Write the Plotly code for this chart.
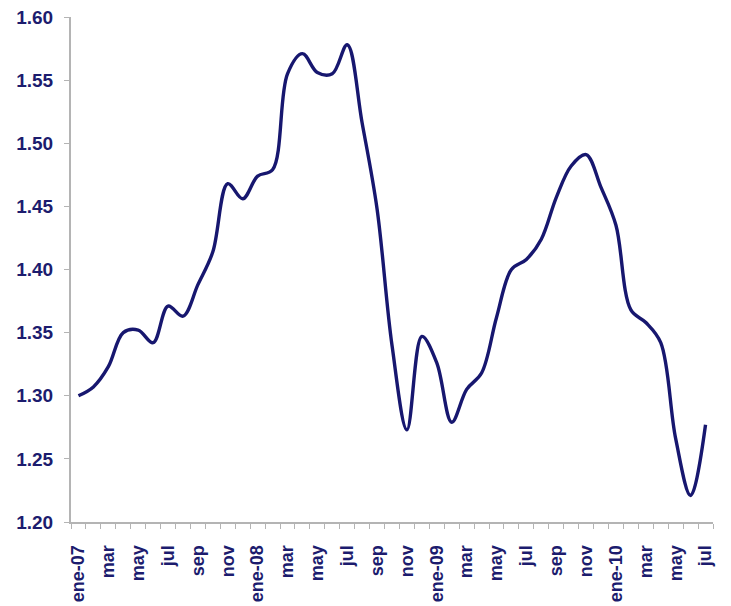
import plotly.graph_objects as go

# Monthly values, ene-07 .. jul-10 (43 months)
months = ["ene-07", "feb", "mar", "abr", "may", "jun", "jul", "ago", "sep", "oct", "nov", "dic",
          "ene-08", "feb", "mar", "abr", "may", "jun", "jul", "ago", "sep", "oct", "nov", "dic",
          "ene-09", "feb", "mar", "abr", "may", "jun", "jul", "ago", "sep", "oct", "nov", "dic",
          "ene-10", "feb", "mar", "abr", "may", "jun", "jul"]
rate = [1.300, 1.307, 1.323, 1.350, 1.352, 1.342, 1.371, 1.363, 1.388, 1.414, 1.468, 1.456,
        1.474, 1.479, 1.555, 1.571, 1.556, 1.555, 1.578, 1.516, 1.448, 1.340, 1.273, 1.347,
        1.326, 1.279, 1.305, 1.318, 1.362, 1.400, 1.408, 1.424, 1.457, 1.482, 1.491, 1.465,
        1.435, 1.368, 1.358, 1.342, 1.266, 1.221, 1.277]
y_ticks = [1.20, 1.25, 1.30, 1.35, 1.40, 1.45, 1.50, 1.55, 1.60]

x_idx = list(range(len(months)))
label_idx = x_idx[::2]
label_txt = [months[i] for i in label_idx]

NAVY = "#1c1c6e"
LINE = "#17176f"
AXIS = "#b4b4b4"

fig = go.Figure()
fig.add_trace(go.Scatter(
    x=x_idx, y=rate, mode="lines",
    line=dict(color=LINE, width=3.4, shape="spline", smoothing=1.0),
    hoverinfo="skip", showlegend=False,
))

fig.update_layout(
    width=731, height=606,
    margin=dict(l=71, r=18, t=17, b=84),
    paper_bgcolor="white", plot_bgcolor="white",
    font=dict(family="Liberation Sans, Arial, sans-serif", color=NAVY),
)
fig.update_xaxes(
    range=[-0.5, len(months) - 0.5],
    automargin=False,
    tickmode="array", tickvals=label_idx, ticktext=[f"<b>{t}</b>" for t in label_txt],
    tickangle=-90, ticks="outside", ticklen=0,
    tickfont=dict(size=18, color=NAVY),
    ticklabelstandoff=14,
    showgrid=False, zeroline=False,
    showline=True, linecolor=AXIS, linewidth=2,
    minor=dict(tick0=-0.5, dtick=1, ticks="outside", ticklen=5, tickcolor=AXIS, tickwidth=1, showgrid=False),
)
fig.update_yaxes(
    range=[1.2, 1.6],
    automargin=False,
    tickmode="array", tickvals=y_ticks, ticktext=[f"<b>{v:.2f}</b>" for v in y_ticks],
    ticks="outside", ticklen=5, tickcolor=AXIS, tickwidth=1,
    tickfont=dict(size=19, color=NAVY),
    ticklabelstandoff=7,
    showgrid=False, zeroline=False,
    showline=True, linecolor=AXIS, linewidth=2,
)

fig.write_html("out.html")
